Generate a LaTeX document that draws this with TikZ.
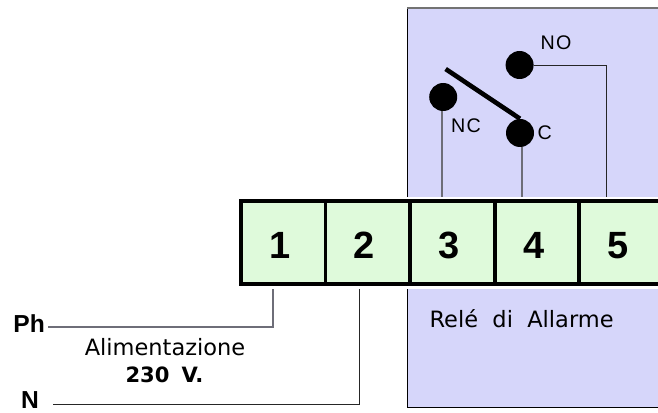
\documentclass[tikz,border=0pt]{standalone}
\usepackage{fontspec}
\setmainfont{Liberation Sans}
\newfontfamily\widefont{DejaVu Sans}
\newfontfamily\spacedfont[LetterSpace=6]{Liberation Sans}
\definecolor{panelblue}{RGB}{214,214,250}
\definecolor{termgreen}{RGB}{223,250,219}
\definecolor{wiregray}{RGB}{110,110,120}
\tikzset{
terminal/.style={draw=black,fill=termgreen,line width=2.6pt,minimum width=2.115cm,minimum height=2.075cm,inner sep=0pt,text height=.78cm,text depth=0pt,font=\fontsize{27}{27}\selectfont\bfseries,execute at end node={\hspace{.17cm}}},
contact/.style={circle,fill=black,minimum size=.7cm,inner sep=0pt},
thickwire/.style={draw=wiregray,line width=1.1pt},
thinwire/.style={draw=black!85,line width=.7pt},
contactlabel/.style={font=\spacedfont\fontsize{14}{14}\selectfont,inner sep=0pt},
mainslabel/.style={font=\fontsize{17.5}{17.5}\selectfont\bfseries,inner sep=0pt},
textlabel/.style={font=\widefont\fontsize{16}{16}\selectfont,inner sep=0pt}
}
\begin{document}
\begin{tikzpicture}
\useasboundingbox (0,0) rectangle (16.45,10.3);
% panel
\fill [panelblue] (10.175,.125) rectangle (17,10.1);
\draw [line width=.7pt,black] (17,.125) -- (10.175,.125) -- (10.175,10.1);
\draw [line width=1.1pt,black!55] (10.175,10.1) -- (17,10.1);
\fill [white] (5.9,3.075) rectangle (17,5.375);
% terminals
\node [terminal] (t1) at (7.08,4.23) {1};
\node [terminal] (t2) at (9.195,4.23) {2};
\node [terminal] (t3) at (11.31,4.23) {3};
\node [terminal] (t4) at (13.425,4.23) {4};
\node [terminal] (t5) at (15.54,4.23) {5};
% contacts
\node [contact] (no) at (12.99,8.675) {};
\node [contact] (nc) at (11.08,7.875) {};
\node [contact] (c) at (13,6.975) {};
\coordinate (bladeend) at (11.14,8.575);
\coordinate (c3) at (11.05,5.375);
\coordinate (c4) at (13.05,5.375);
\coordinate (c5) at (15.15,5.375);
\draw [line width=3.3pt,black] (bladeend) -- (c.north);
\draw [thickwire] (nc.south -| c3) -- (c3);
\draw [thickwire] (c.south -| c4) -- (c4);
\draw [thinwire] (no.east) -| (c5);
% mains
\coordinate (ph1) at (6.825,3.075);
\coordinate (n2) at (8.975,3.075);
\coordinate (phstart) at (1.2,2.125);
\coordinate (nstart) at (1.33,.2);
\node [mainslabel,anchor=east] (ph) at (1.13,2.2) {Ph};
\node [mainslabel,anchor=east] (n) at (.98,.3) {N};
\draw [thickwire,line width=.9pt] (phstart) -- (phstart -| ph1) -- (ph1);
\draw [thinwire] (nstart) -- (nstart -| n2) -- (n2);
% labels
\node [contactlabel] (nolabel) at (13.9,9.22) {NO};
\node [contactlabel] (nclabel) at (11.65,7.15) {NC};
\node [contactlabel] (clabel) at (13.62,6.975) {C};
\node [textlabel] (relay) at (13.04,2.325) {Relé\hspace{.18cm} di\hspace{.18cm} Allarme};
\node [textlabel] (supply) at (4.125,1.625) {Alimentazione};
\node [textlabel,font=\widefont\fontsize{15}{15}\selectfont\bfseries] (volt) at (4.11,.925) {230\hspace{.12cm} V.};
\end{tikzpicture}
\end{document}
